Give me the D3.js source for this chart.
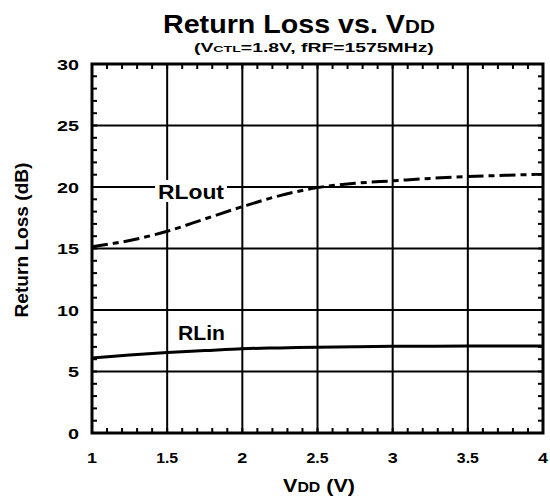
<!DOCTYPE html>
<html>
<head>
<meta charset="utf-8">
<script src="https://cdn.jsdelivr.net/npm/d3@7"></script>
<style>
  html, body { margin: 0; padding: 0; background: #fff; }
  svg text { font-family: "Liberation Sans", Arial, Helvetica, sans-serif; font-weight: bold; fill: #000; }
</style>
</head>
<body>
<svg id="chart" width="550" height="500"></svg>
<script>
// Supply voltage sweep (V)
const vdd = [1.0, 1.25, 1.5, 1.75, 2.0, 2.25, 2.5, 2.75, 3.0, 3.25, 3.5, 3.75, 4.0];
// Input return loss (dB)
const rlIn = [6.1, 6.35, 6.55, 6.7, 6.85, 6.92, 6.98, 7.02, 7.05, 7.06, 7.07, 7.07, 7.07];
// Output return loss (dB)
const rlOut = [15.15, 15.65, 16.4, 17.4, 18.4, 19.3, 19.95, 20.3, 20.5, 20.7, 20.85, 20.95, 21.05];

const xTicks = [1, 1.5, 2, 2.5, 3, 3.5, 4];
const xTickLabels = ["1", "1.5", "2", "2.5", "3", "3.5", "4"];
const yTicks = [0, 5, 10, 15, 20, 25, 30];
const yTickLabels = ["0", "5", "10", "15", "20", "25", "30"];

const svg = d3.select("#chart");
const L = 92, R = 543, T = 64, B = 433;
const x = d3.scaleLinear().domain([1, 4]).range([L, R]);
const y = d3.scaleLinear().domain([0, 30]).range([B, T]);

// Stretch a text element horizontally so it spans the wanted width
function fit(sel, w) {
  const len = sel.node().getComputedTextLength();
  sel.attr("transform", `scale(${w / len},1)`);
}
function label(parent, px, py, anchor, parts, w, rot) {
  const g = parent.append("g").attr("transform", `translate(${px},${py})` + (rot ? ` rotate(${rot})` : ""));
  const t = g.append("text").attr("text-anchor", anchor);
  parts.forEach(p => t.append("tspan").attr("font-size", p[1]).text(p[0]));
  if (w) fit(t, w);
  return t;
}

// Major grid
const grid = svg.append("g").attr("stroke", "#000").attr("stroke-width", 2);
grid.selectAll(".vg").data(xTicks.slice(1, -1)).join("line")
  .attr("x1", d => x(d)).attr("x2", d => x(d)).attr("y1", T).attr("y2", B);
grid.selectAll(".hg").data(yTicks.slice(1, -1)).join("line")
  .attr("y1", d => y(d)).attr("y2", d => y(d)).attr("x1", L).attr("x2", R);

// Minor ticks on all four sides, pointing inward
const minor = svg.append("g").attr("stroke", "#000").attr("stroke-width", 2);
const xMinor = d3.range(1, 4.0001, 0.1);
const yMinor = d3.range(0, 30.0001, 1);
const tl = 5;
minor.selectAll(".xb").data(xMinor).join("line")
  .attr("x1", d => x(d)).attr("x2", d => x(d)).attr("y1", B).attr("y2", B - tl);
minor.selectAll(".xt").data(xMinor).join("line")
  .attr("x1", d => x(d)).attr("x2", d => x(d)).attr("y1", T).attr("y2", T + tl);
minor.selectAll(".yl").data(yMinor).join("line")
  .attr("y1", d => y(d)).attr("y2", d => y(d)).attr("x1", L).attr("x2", L + tl);
minor.selectAll(".yr").data(yMinor).join("line")
  .attr("y1", d => y(d)).attr("y2", d => y(d)).attr("x1", R).attr("x2", R - tl);

// Frame
svg.append("rect").attr("x", L).attr("y", T).attr("width", R - L).attr("height", B - T)
  .attr("fill", "none").attr("stroke", "#000").attr("stroke-width", 3);

// Curves
const line = d3.line().x((d, i) => x(vdd[i])).y(d => y(d)).curve(d3.curveMonotoneX);
svg.append("path").datum(rlIn).attr("d", line)
  .attr("fill", "none").attr("stroke", "#000").attr("stroke-width", 3);
svg.append("path").datum(rlOut).attr("d", line)
  .attr("fill", "none").attr("stroke", "#000").attr("stroke-width", 3)
  .attr("stroke-dasharray", "16,5,6,5");

// Curve labels on white patches
svg.append("rect").attr("x", 155).attr("y", 180).attr("width", 72).attr("height", 22).attr("fill", "#fff");
label(svg, 158, 199, "start", [["RLout", "20px"]], 66);
label(svg, 178, 340, "start", [["RLin", "20px"]], 47);

// Axis tick labels
yTicks.forEach((v, i) => label(svg, 79, y(v) + 5.5, "end", [[yTickLabels[i], "15px"]], yTickLabels[i].length * 11));
xTicks.forEach((v, i) => label(svg, x(v), 463, "middle", [[xTickLabels[i], "15px"]], xTickLabels[i].length === 1 ? 10 : 22));

// Titles
label(svg, 163, 33, "start", [["Return Loss vs. V", "25px"], ["DD", "18px"]], 272);
label(svg, 194, 52, "start", [["(V", "13px"], ["CTL", "9.5px"], ["=1.8V, fRF=1575MHz)", "13px"]], 240);
label(svg, 319, 492, "middle", [["V", "19px"], ["DD", "14px"], [" (V)", "19px"]], 72);
label(svg, 28, 240, "middle", [["Return Loss (dB)", "17.5px"]], 155, -90);
</script>
</body>
</html>
